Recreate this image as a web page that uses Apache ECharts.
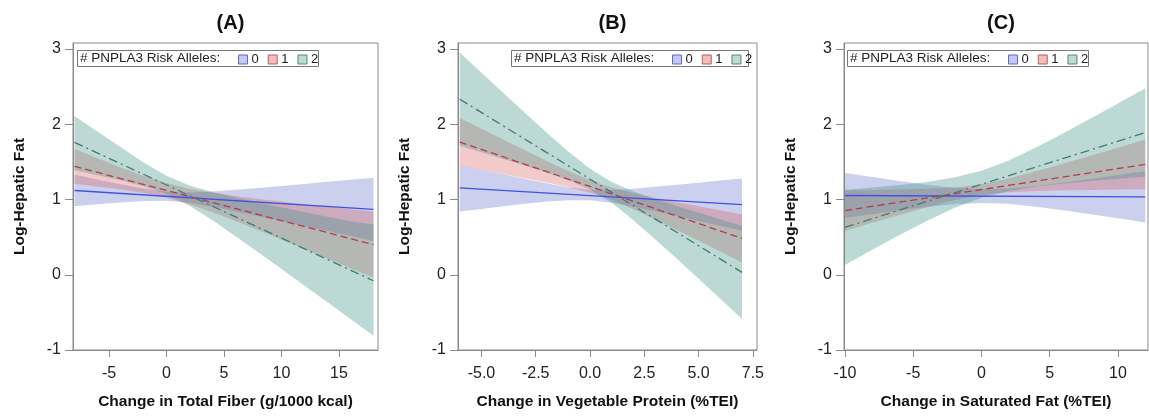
<!DOCTYPE html>
<html>
<head>
<meta charset="utf-8">
<script src="https://cdn.jsdelivr.net/npm/echarts@6/dist/echarts.min.js"></script>
<style>
html,body{margin:0;padding:0;background:#fff;}
#chart{width:1149px;height:416px;}
</style>
</head>
<body>
<div id="chart"></div>
<script>
// ---------- data ----------
const panelTitles = ['(A)', '(B)', '(C)'];
const xTitles = ['Change in Total Fiber (g/1000 kcal)', 'Change in Vegetable Protein (%TEI)', 'Change in Saturated Fat (%TEI)'];
const yTitle = 'Log-Hepatic Fat';
const legendLabel = '# PNPLA3 Risk Alleles:';
const groups = ['0', '1', '2'];

const xTicksA = [-5, 0, 5, 10, 15];
const xTicksB = [-5, -2.5, 0, 2.5, 5, 7.5];
const xTicksC = [-10, -5, 0, 5, 10];
const yTicks = [-1, 0, 1, 2, 3];

// Panel A: Total fiber
const xA = [-8, -6, -4, -2, 0, 2, 4, 6, 8, 10, 12, 14, 16, 18];
const blueLoA = [0.91, 0.936, 0.961, 0.979, 0.984, 0.956, 0.904, 0.843, 0.779, 0.714, 0.649, 0.583, 0.517, 0.45];
const blueHiA = [1.33, 1.266, 1.203, 1.145, 1.102, 1.092, 1.106, 1.129, 1.153, 1.18, 1.207, 1.235, 1.263, 1.29];
const redLoA = [1.21, 1.173, 1.133, 1.085, 1.022, 0.936, 0.83, 0.714, 0.592, 0.468, 0.342, 0.215, 0.088, -0.04];
const redHiA = [1.67, 1.547, 1.427, 1.315, 1.218, 1.144, 1.09, 1.046, 1.008, 0.972, 0.938, 0.905, 0.872, 0.84];
const greenLoA = [1.39, 1.324, 1.256, 1.177, 1.072, 0.917, 0.723, 0.512, 0.296, 0.076, -0.145, -0.366, -0.589, -0.812];
const greenHiA = [2.11, 1.905, 1.698, 1.493, 1.316, 1.187, 1.099, 1.026, 0.96, 0.896, 0.833, 0.772, 0.711, 0.67];
const xEndA = [-8, 18];
const blueLineA = [1.12, 0.87];
const redLineA = [1.44, 0.40];
const greenLineA = [1.76, -0.08];

// Panel B: Vegetable protein
const xB = [-6, -5, -4, -3, -2, -1, 0, 1, 2, 3, 4, 5, 6, 7];
const blueLoB = [0.84, 0.875, 0.91, 0.943, 0.972, 0.99, 0.99, 0.957, 0.904, 0.844, 0.781, 0.716, 0.651, 0.586];
const blueHiB = [1.45, 1.392, 1.335, 1.275, 1.216, 1.163, 1.13, 1.127, 1.144, 1.168, 1.195, 1.222, 1.251, 1.28];
const redLoB = [1.444, 1.392, 1.338, 1.284, 1.227, 1.165, 1.09, 0.992, 0.869, 0.735, 0.594, 0.452, 0.308, 0.164];
const redHiB = [2.084, 1.94, 1.796, 1.654, 1.513, 1.379, 1.256, 1.158, 1.083, 1.021, 0.964, 0.91, 0.856, 0.804];
const greenLoB = [1.713, 1.627, 1.54, 1.451, 1.358, 1.257, 1.133, 0.956, 0.726, 0.473, 0.212, -0.053, -0.32, -0.588];
const greenHiB = [2.953, 2.685, 2.418, 2.153, 1.892, 1.639, 1.409, 1.232, 1.108, 1.007, 0.914, 0.825, 0.738, 0.652];
const xEndB = [-6, 7];
const blueLineB = [1.155, 0.933];
const redLineB = [1.764, 0.484];
const greenLineB = [2.333, 0.032];

// Panel C: Saturated fat
const xC = [-10, -8, -6, -4, -2, 0, 2, 4, 6, 8, 10, 12];
const blueLoC = [0.753, 0.804, 0.854, 0.899, 0.937, 0.955, 0.942, 0.904, 0.857, 0.805, 0.751, 0.696];
const blueHiC = [1.353, 1.298, 1.246, 1.197, 1.157, 1.135, 1.146, 1.18, 1.225, 1.273, 1.325, 1.376];
const redLoC = [0.583, 0.69, 0.795, 0.897, 0.991, 1.062, 1.097, 1.113, 1.122, 1.127, 1.133, 1.137];
const redHiC = [1.123, 1.128, 1.135, 1.143, 1.161, 1.202, 1.279, 1.375, 1.478, 1.583, 1.689, 1.797];
const greenLoC = [0.131, 0.331, 0.527, 0.715, 0.886, 1.023, 1.114, 1.173, 1.213, 1.247, 1.275, 1.301];
const greenHiC = [1.131, 1.159, 1.193, 1.233, 1.292, 1.383, 1.52, 1.691, 1.879, 2.075, 2.275, 2.477];
const xEndC = [-10, 12];
const blueLineC = [1.053, 1.036];
const redLineC = [0.853, 1.467];
const greenLineC = [0.631, 1.889];

// ---------- styling ----------
const FONT = 'Liberation Sans, Arial, Helvetica, sans-serif';
const AXIS_COLOR = '#8a8a8a';
const bandColors = ['rgba(90,108,200,0.32)', 'rgba(215,95,95,0.33)', 'rgba(70,150,140,0.36)'];
const lineColors = ['#3f52e0', '#b83a4c', '#3f7d6e'];
const lineTypes = ['solid', [7, 4], [9, 4, 2, 4]];
const legendFill = ['#c6cbee', '#eebdbd', '#bfd9d5'];
const legendBorder = ['#5a6ad0', '#c05a5a', '#4f8a7e'];

const grids = [
  { left: 73, top: 43, width: 305, height: 307 },
  { left: 458, top: 43, width: 299, height: 307 },
  { left: 844, top: 43, width: 304, height: 307 }
];
const xRanges = [[-8.13, 18.39], [-6.08, 7.69], [-10.07, 12.2]];
const xTickSets = [xTicksA, xTicksB, xTicksC];
const xFormat = [v => String(v), v => v.toFixed(1), v => String(v)];

const panels = [
  { xs: xA, lo: [blueLoA, redLoA, greenLoA], hi: [blueHiA, redHiA, greenHiA], xe: xEndA, lines: [blueLineA, redLineA, greenLineA] },
  { xs: xB, lo: [blueLoB, redLoB, greenLoB], hi: [blueHiB, redHiB, greenHiB], xe: xEndB, lines: [blueLineB, redLineB, greenLineB] },
  { xs: xC, lo: [blueLoC, redLoC, greenLoC], hi: [blueHiC, redHiC, greenHiC], xe: xEndC, lines: [blueLineC, redLineC, greenLineC] }
];

function bandSeries(p, g, k) {
  const data = p.xs.map((x, i) => [x, p.lo[k][i], p.hi[k][i]]);
  return {
    type: 'custom', name: groups[k], xAxisIndex: g, yAxisIndex: g, z: 1 + k * 0.1,
    clip: true, silent: true,
    itemStyle: { color: legendFill[k], borderColor: legendBorder[k] },
    encode: { x: 0, y: [1, 2] },
    data: data,
    renderItem: function (params, api) {
      if (params.dataIndex !== 0) return null;
      const upper = data.map(d => api.coord([d[0], d[2]]));
      const lower = data.map(d => api.coord([d[0], d[1]])).reverse();
      return { type: 'polygon', shape: { points: upper.concat(lower) }, style: { fill: bandColors[k] } };
    }
  };
}

function lineSeries(p, g, k) {
  return {
    type: 'line', name: groups[k], xAxisIndex: g, yAxisIndex: g, z: 5 + k,
    showSymbol: false, symbol: 'none', silent: true,
    itemStyle: { color: legendFill[k], borderColor: legendBorder[k] },
    lineStyle: { color: lineColors[k], width: 1.3, type: lineTypes[k] },
    data: p.xe.map((x, i) => [x, p.lines[k][i]])
  };
}

const series = [];
panels.forEach((p, g) => { for (let k = 0; k < 3; k++) series.push(bandSeries(p, g, k)); });
panels.forEach((p, g) => { for (let k = 0; k < 3; k++) series.push(lineSeries(p, g, k)); });

const xAxes = grids.map((gr, g) => ({
  type: 'value', gridIndex: g, min: xRanges[g][0], max: xRanges[g][1],
  axisLine: { show: true, onZero: false, lineStyle: { color: AXIS_COLOR, width: 1 } },
  axisTick: { show: true, length: 7, customValues: xTickSets[g], lineStyle: { color: AXIS_COLOR } },
  axisLabel: { customValues: xTickSets[g], formatter: xFormat[g], color: '#222', fontSize: 16, fontFamily: FONT, margin: 16 },
  splitLine: { show: false },
  name: xTitles[g], nameLocation: 'middle', nameGap: 44,
  nameTextStyle: { fontWeight: 'bold', fontSize: 15.5, color: '#111', fontFamily: FONT }
}));

const yAxes = grids.map((gr, g) => ({
  type: 'value', gridIndex: g, min: -1, max: 3.08,
  axisLine: { show: true, onZero: false, lineStyle: { color: AXIS_COLOR, width: 1 } },
  axisTick: { show: true, length: 8, customValues: yTicks, lineStyle: { color: AXIS_COLOR } },
  axisLabel: { customValues: yTicks, color: '#222', fontSize: 16, fontFamily: FONT, margin: 12 },
  splitLine: { show: false },
  name: yTitle, nameLocation: 'middle', nameGap: 45, nameRotate: 90,
  nameTextStyle: { fontWeight: 'bold', fontSize: 15.5, color: '#111', fontFamily: FONT }
}));

const legendBoxes = [
  { x: 77, w: 241 },
  { x: 511, w: 237 },
  { x: 847, w: 241 }
];

const legends = legendBoxes.map(b => ({
  left: b.x + 161, top: 53, orient: 'horizontal', z: 30,
  itemWidth: 9, itemHeight: 9, itemGap: 9, padding: 0,
  selectedMode: false,
  textStyle: { fontSize: 13, color: '#222', fontFamily: FONT, padding: [0, 0, 0, -1] },
  data: groups.map((n, k) => ({ name: n, icon: 'rect', itemStyle: { color: legendFill[k], borderColor: legendBorder[k], borderWidth: 1 } }))
}));

const graphics = [];
legendBoxes.forEach(b => {
  graphics.push({ type: 'rect', left: b.x, top: 50, z: 20, shape: { width: b.w, height: 16 }, style: { fill: '#fff', stroke: '#777', lineWidth: 1 } });
  graphics.push({ type: 'text', left: b.x + 3, top: 51, z: 21, style: { text: legendLabel, font: '13.5px ' + FONT, fill: '#222' } });
});

const titles = grids.map((gr, g) => ({
  text: panelTitles[g], left: gr.left + gr.width / 2, top: 8, textAlign: 'center',
  textStyle: { fontSize: 20, fontWeight: 'bold', color: '#111', fontFamily: FONT }
}));

const chart = echarts.init(document.getElementById('chart'));
chart.setOption({
  animation: false,
  backgroundColor: '#fff',
  title: titles,
  grid: grids.map(gr => Object.assign({ show: true, borderColor: AXIS_COLOR, borderWidth: 1, backgroundColor: 'transparent', containLabel: false }, gr)),
  xAxis: xAxes,
  yAxis: yAxes,
  legend: legends,
  graphic: graphics,
  series: series
});
</script>
</body>
</html>
